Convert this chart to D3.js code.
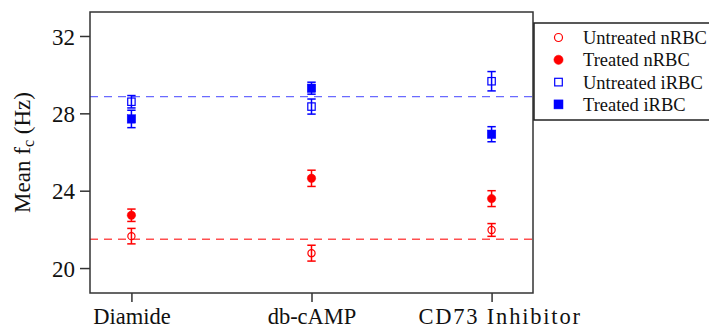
<!DOCTYPE html>
<html><head><meta charset="utf-8">
<script src="https://cdn.jsdelivr.net/npm/d3@7"></script>
<style>
html,body{margin:0;padding:0;background:#fff;}
svg{display:block;font-family:"Liberation Serif","Times New Roman",serif;}
</style></head>
<body><svg id="c" width="709" height="331"></svg>
<script>
const categories = ["Diamide", "db-cAMP", "CD73 Inhibitor"];
const seriesNames = ["Untreated nRBC", "Treated nRBC", "Untreated iRBC", "Treated iRBC"];
const untreatedNRBC = [21.65, 20.77, 21.97];
const untreatedNRBCErr = [0.40, 0.41, 0.33];
const treatedNRBC = [22.73, 24.64, 23.59];
const treatedNRBCErr = [0.32, 0.42, 0.41];
const untreatedIRBC = [28.60, 28.35, 29.66];
const untreatedIRBCErr = [0.32, 0.39, 0.50];
const treatedIRBC = [27.71, 29.30, 26.92];
const treatedIRBCErr = [0.45, 0.31, 0.39];
const yTicks = [20, 24, 28, 32];
const refLines = [28.86, 21.49];

const seriesStyle = [
  {color:"#ff0000", shape:"circle", filled:false},
  {color:"#ff0000", shape:"circle", filled:true},
  {color:"#0000ff", shape:"square", filled:false},
  {color:"#0000ff", shape:"square", filled:true}
];
const seriesVals = [untreatedNRBC, treatedNRBC, untreatedIRBC, treatedIRBC];
const seriesErrs = [untreatedNRBCErr, treatedNRBCErr, untreatedIRBCErr, treatedIRBCErr];

const L = 90, R = 533, T = 12, B = 293;
const FONT = '"Liberation Serif","Times New Roman",serif';
const svg = d3.select("#c");
const x = d3.scalePoint().domain(categories).range([L, R]).padding(0.23);
const y = d3.scaleLinear().domain([18.71, 33.24]).range([B, T]);

// reference dashed lines
const refColors = ["rgba(80,80,255,0.85)", "rgba(255,60,60,0.9)"];
svg.selectAll(".ref").data(refLines).enter().append("line")
  .attr("x1", L).attr("x2", R)
  .attr("y1", d => y(d)).attr("y2", d => y(d))
  .attr("stroke", (d,i) => refColors[i]).attr("stroke-width", 1.3)
  .attr("stroke-dasharray", "8,6");

// axes
const yAxis = d3.axisLeft(y).tickValues(yTicks).tickSize(10).tickPadding(5).tickFormat(d3.format("d"));
const gy = svg.append("g").attr("transform", `translate(${L},0)`).call(yAxis);
const xAxis = d3.axisBottom(x).tickSize(9).tickPadding(4);
const gx = svg.append("g").attr("transform", `translate(0,${B})`).call(xAxis);
[gx, gy].forEach(g => {
  g.attr("font-family", FONT);
  g.select(".domain").remove();
  g.selectAll("line").attr("stroke", "#333").attr("stroke-width", 1.5);
  g.selectAll("text").attr("fill", "#111").style("font-size", "23px").style("font-family", FONT);
});
gy.selectAll("text").attr("dy", "0.35em");
gx.selectAll("text").attr("dy", "0.82em").style("font-size", "22.5px");
gx.selectAll("text").filter(d => d === "CD73 Inhibitor")
  .style("letter-spacing", "1.8px").attr("dx", "8");

// frame
svg.append("rect").attr("x", L).attr("y", T).attr("width", R - L).attr("height", B - T)
  .attr("fill", "none").attr("stroke", "#333").attr("stroke-width", 1.5);

// error bars + markers
function drawMarker(g, st, cx, cy, big) {
  if (st.shape === "circle") {
    const r = st.filled ? (big ? 4.6 : 4.2) : (big ? 4.0 : 3.6);
    g.append("circle").attr("cx", cx).attr("cy", cy).attr("r", r)
      .attr("fill", st.filled ? st.color : "none").attr("stroke", st.color).attr("stroke-width", st.filled ? 0.5 : 1.2);
  } else {
    const s = st.filled ? (big ? 9 : 8.4) : (big ? 7.6 : 7.4);
    g.append("rect").attr("x", cx - s/2).attr("y", cy - s/2).attr("width", s).attr("height", s)
      .attr("fill", st.filled ? st.color : "none").attr("stroke", st.color).attr("stroke-width", st.filled ? 0.5 : 1.2);
  }
}
const capW = 4.2;
seriesVals.forEach((vals, si) => {
  const st = seriesStyle[si];
  const g = svg.append("g");
  vals.forEach((v, ci) => {
    const cx = x(categories[ci]);
    const e = seriesErrs[si][ci];
    g.append("line").attr("x1", cx).attr("x2", cx).attr("y1", y(v - e)).attr("y2", y(v + e))
      .attr("stroke", st.color).attr("stroke-width", 1.5);
    [v - e, v + e].forEach(t => g.append("line").attr("x1", cx - capW).attr("x2", cx + capW)
      .attr("y1", y(t)).attr("y2", y(t)).attr("stroke", st.color).attr("stroke-width", 1.5));
    drawMarker(g, st, cx, y(v), false);
  });
});

// y label
const yl = svg.append("text").attr("transform", `translate(30,${(T + B) / 2}) rotate(-90)`)
  .attr("text-anchor", "middle").style("font-size", "23px").style("font-family", FONT).attr("fill", "#111");
yl.append("tspan").text("Mean f");
yl.append("tspan").attr("baseline-shift", "-28%").style("font-size", "16px").text("c");
yl.append("tspan").text(" (Hz)");

// legend
const lg = svg.append("g");
lg.append("rect").attr("x", 534).attr("y", 23).attr("width", 200).attr("height", 97)
  .attr("fill", "#fff").attr("stroke", "#222").attr("stroke-width", 1.5);
seriesNames.forEach((name, i) => {
  const cy = 37.5 + i * 22.3;
  drawMarker(lg, seriesStyle[i], 558.5, cy, true);
  lg.append("text").attr("x", 583).attr("y", cy).attr("dy", "0.35em")
    .style("font-size", "18.5px").style("font-family", FONT).attr("fill", "#111").text(name);
});
</script></body></html>
